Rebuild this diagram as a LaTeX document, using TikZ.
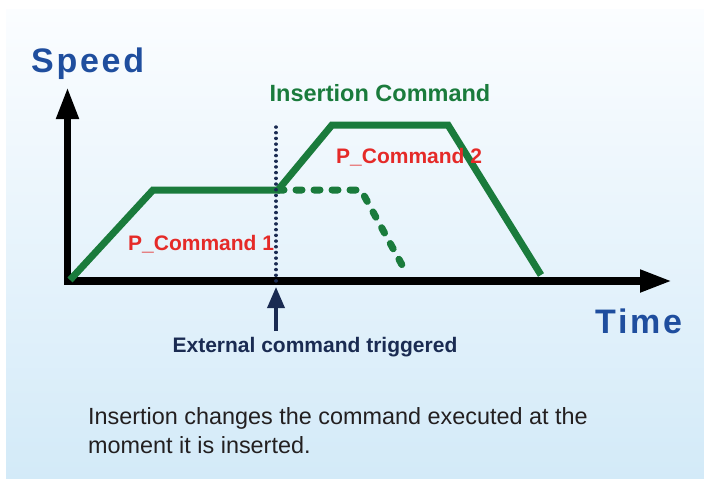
\documentclass[tikz,border=0pt]{standalone}
\usepackage{fontspec}
\setmainfont{Liberation Sans}
\newfontfamily\spacedfont{Liberation Sans}[LetterSpace=8]
\usetikzlibrary{arrows.meta}
\definecolor{cmdgreen}{HTML}{1A7B3C}
\definecolor{axisblue}{HTML}{1F4E9E}
\definecolor{cmdred}{HTML}{E52A28}
\definecolor{trignavy}{HTML}{1A2B52}
\definecolor{bodygray}{HTML}{231F20}
\definecolor{paneltop}{HTML}{FBFDFF}
\definecolor{panelbot}{HTML}{D3EAF8}
\tikzstyle{axis} = [line width=7.5pt,black,{Triangle[length=32pt,width=21pt]}-{Triangle[length=32pt,width=21pt]}]
\tikzstyle{profile} = [line width=7pt,cmdgreen,line join=miter]
\tikzstyle{oldprofile} = [line width=7pt,cmdgreen,line cap=round,dash pattern=on 6pt off 12pt]
\tikzstyle{trigline} = [line width=3.4pt,trignavy,line cap=round,dash pattern=on 0.1pt off 5.6pt]
\tikzstyle{axislabel} = [axisblue,inner sep=0pt,font=\spacedfont\bfseries\fontsize{34}{38}\selectfont]
\tikzstyle{cmdlabel} = [cmdred,inner sep=0pt,font=\bfseries\fontsize{21}{24}\selectfont]

\begin{document}
\begin{tikzpicture}[x=1pt,y=-1pt]
\useasboundingbox (0,0) rectangle (704,479);
\shade[top color=paneltop,bottom color=panelbot] (6,9) rectangle (704,479);

% axes
\coordinate (ytip) at (67.5,87);
\coordinate (xtip) at (672,281);
\draw[axis] (ytip) |- (xtip);
\node[axislabel,anchor=base west] (speed) at (31,72) {Speed};
\node[axislabel,anchor=base west] (time) at (595,333) {Time};

% speed profiles
\coordinate (p0) at (70,280);
\coordinate (p1) at (153,190);
\coordinate (p2) at (278,190);
\coordinate (p3) at (332,125);
\coordinate (p4) at (448,125);
\coordinate (p5) at (541,275);
\coordinate (q1) at (361,190);
\coordinate (q2) at (407,274);
\draw[oldprofile] (p2) -- (q1) -- (q2);
\draw[profile] (p0) -- (p1) -- (p2) -- (p3) -- (p4) -- (p5);

% trigger
\coordinate (ttop) at (276,127);
\coordinate (tbot) at (276,281);
\draw[trigline] (ttop) -- (tbot);
\coordinate (tarrow) at (276,287);
\node[trignavy,anchor=base,inner sep=0pt,font=\bfseries\fontsize{21}{24}\selectfont] (ext) at (315,352) {External command triggered};
\coordinate (tfoot) at (276,331);
\draw[trignavy,line width=3.5pt,-{Triangle[length=21pt,width=17pt]}] (tfoot) -- (tarrow);

\node[cmdgreen,anchor=base,inner sep=0pt,font=\bfseries\fontsize{23.5}{26}\selectfont] (ins) at (380,101.7) {Insertion Command};
\node[cmdlabel,anchor=base west] (cmd2) at (336,163.5) {P\_Command 2};
\node[cmdlabel,anchor=base west] (cmd1) at (128,250) {P\_Command 1};

\node[bodygray,anchor=base west,align=left,inner sep=0pt,font=\fontsize{23.4}{28.5}\selectfont] (note) at (88,453) {Insertion changes the command executed at the\\moment it is inserted.};
\end{tikzpicture}
\end{document}
